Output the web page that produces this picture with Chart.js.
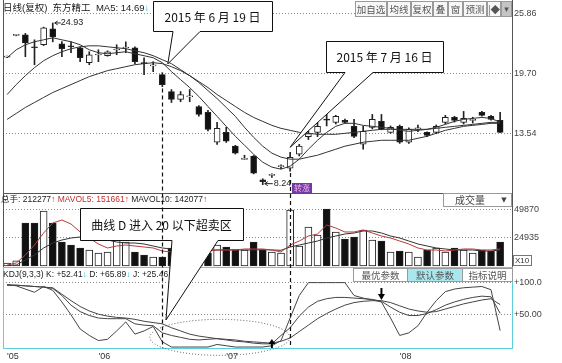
<!DOCTYPE html>
<html>
<head>
<meta charset="utf-8">
<script src="https://cdn.jsdelivr.net/npm/chart.js@4.4.0/dist/chart.umd.min.js"></script>
<style>
  html, body { margin: 0; padding: 0; background: #fff; }
  canvas { display: block; }
</style>
</head>
<body>
<canvas id="c" width="562" height="363"></canvas>
<script>
// daily candles, 东方精工, May - Aug 2015
const opens  = [21.40,23.65,23.70,22.40,22.68,24.32,22.78,22.50,22.37,20.83, 21.62,21.55,22.14,22.35,22.37,20.75,20.50,19.60,17.85,17.03, 17.30,16.31,15.70,12.62,13.64,12.21,10.85,11.18,8.75,9.20, 10.10,9.95,11.39,13.20,13.64,15.00,14.67,14.87,14.26,12.42, 14.16,14.77,13.64,14.26,12.62,14.00,13.64,13.64,14.67,15.19, 14.67,14.87,15.70,15.29,14.87];
const highs  = [21.50,23.75,23.85,23.19,24.50,24.93,23.00,22.98,22.47,21.96, 22.16,22.05,22.68,22.98,22.47,21.34,20.93,19.80,18.06,17.85, 18.06,16.40,15.90,14.67,14.16,12.30,11.28,11.25,8.85,9.35, 10.30,11.59,12.40,13.75,14.67,15.50,15.40,15.00,14.98,14.26, 15.49,15.49,14.30,14.40,14.10,14.40,13.70,14.40,15.40,15.30, 15.80,15.20,15.80,15.40,15.70];
const lows   = [21.35,23.60,21.45,20.62,22.60,22.98,21.45,21.86,20.93,20.62, 20.93,21.50,21.65,21.86,20.73,19.60,19.90,18.36,16.72,16.80, 16.80,15.30,13.80,12.40,12.60,11.40,10.85,9.35,8.24,9.00, 9.90,9.64,11.20,12.90,13.20,14.30,14.50,14.60,13.10,11.90, 14.00,13.90,13.55,12.50,12.50,13.70,13.20,13.50,14.50,14.70, 14.50,14.60,15.30,14.90,13.60];
const closes = [21.45,23.70,22.88,22.37,24.42,23.50,22.27,22.47,21.34,21.65, 21.65,21.96,22.16,22.37,20.93,20.73,20.52,18.57,17.03,17.54, 17.34,15.49,13.95,14.06,12.72,11.49,10.87,9.43,8.55,9.25, 10.15,11.07,12.21,13.50,14.26,14.90,15.29,14.67,13.23,13.74, 14.98,13.95,14.16,12.62,13.95,14.05,13.33,14.26,15.19,14.87, 15.08,14.98,15.39,14.98,13.64];

const ma5  = [21.34,22.16,22.68,22.99,23.19,23.40,23.19,22.99,22.68,22.16, 21.86,21.75,21.86,21.96,21.75,21.55,21.34,20.83,19.91,19.08, 18.26,17.34,16.31,15.29,14.26,13.23,12.31,11.38,10.56,10.05, 9.84,10.15,10.87,11.90,12.82,13.64,14.26,14.57,14.57,14.36, 14.26,14.16,14.05,13.85,13.75,13.85,13.95,14.16,14.46,14.77, 14.98,15.08,15.18,15.08,14.69];
const ma10 = [17.54,18.57,19.49,20.32,21.03,21.55,21.96,22.27,22.47,22.57, 22.57,22.47,22.37,22.27,22.06,21.86,21.55,21.14,20.73,20.11, 19.49,18.78,17.95,17.13,16.21,15.29,14.16,13.13,12.21,11.49, 11.08,10.87,10.87,11.08,11.28,11.59,11.90,12.21,12.41,12.62, 12.72,12.82,12.82,12.82,12.82,13.03,13.23,13.54,13.85,14.05, 14.26,14.36,14.46,14.57,14.57];
const ma20 = [14.98,15.59,16.21,16.72,17.24,17.75,18.16,18.57,18.98,19.39, 19.70,20.01,20.21,20.42,20.62,20.73,20.83,20.73,20.42,20.01, 19.49,18.88,18.26,17.54,16.93,16.31,15.70,15.18,14.77,14.36, 14.05,13.85,13.64,13.54,13.44,13.44,13.44,13.54,13.64,13.75, 13.85,13.95,13.95,13.95,13.95,13.95,13.95,14.05,14.16,14.26, 14.36,14.46,14.57,14.67,14.67];

const vols    = [27000,45000,383000,383000,490000,383000,214000,187000,160000,142500, 116000,125000,240000,214000,125000,98000,80000,80000,160000,150000, 170000,120000,116000,187000,169000,142500,142500,214000,142500,125000, 116000,498700,178000,347000,276000,507600,302800,240400,258200,320600, 231500,222600,124700,133600,124700,80100,142500,160300,124700,160300, 142500,115800,142500,133600,212277];
const mavol5  = [8905,26700,97960,187000,293900,382900,409600,374000,302800,249300, 195900,160300,178100,187000,178100,169200,160300,133600,124700,124700, 133600,133600,133600,142500,142500,142500,151400,151400,151400,142500, 124700,187000,222600,267200,285000,365100,338400,302800,302800,320600, 293900,267200,249300,222600,195900,160300,142500,142500,133600,142500, 151400,151400,142500,142500,151661];
const mavol10 = [4000,8905,53400,97960,160300,204800,231500,249300,258200,258200, 249300,231500,213700,204800,204800,195900,178100,160300,151400,142500, 142500,142500,140000,142500,142500,145000,142500,142500,146000,142500, 140000,169200,187000,204800,222600,249300,267200,285000,293900,311700, 311700,293900,267200,249300,222600,195900,178100,160300,151400,142500, 142500,142500,133600,133600,142077];

const kLine = [96,96,95,94,93,91,80,65,55,49, 45,44,44,44,36,34,33,22,18,15, 12,11,12,13,11,9,8,6,5,5, 18,30,48,62,71,75,77,77,76,75, 74,71,62,54,49,49,52,58,65,70, 74,77,79,78,52.41];
const dLine = [96,96,95,94,93,92,82,72,63,56, 51,48,46,45,43,40,38,36,30,25, 20,17,15,13,12,11,9,8,7,6, 9,14,24,34,44,52,59,65,69,71, 72,72,69,64,59,56,54,55,59,63, 67,70,73,75,65.89];
const jLine = [97,95,90,85,94,88,70,50,28,18, 10,12,25,39,20,25,32,8,0,0, 0,0,0,4,2,0,0,0,0,2, 10,45,80,100,100,100,100,100,80,76, 73,70,45,18,22,33,54,72,86,90, 92,93,94,89,25.46];

const monthTicks  = [0, 10, 24, 43];
const monthLabels = ["'05", "'06", "'07", "'08"];
const priceTicks  = [13.54, 19.70, 25.86];
const volTicks    = [249350, 498700];
const kdjTicks    = [50, 100];

const idx = closes.map((_, i) => i);
const up = idx.map(i => closes[i] >= opens[i]);
const pts = arr => arr.map((v, i) => ({ x: i, y: v }));
const last = arr => arr[arr.length - 1];

const CYAN = '#5ccfdc';
const TICKFONT = { family: 'Liberation Sans', size: 9 };

function drawSegs(ctx, x, y, parts, font) {
  ctx.font = font;
  ctx.textAlign = 'left';
  ctx.textBaseline = 'middle';
  for (const [t, c] of parts) {
    ctx.fillStyle = c;
    ctx.fillText(t, x, y);
    x += ctx.measureText(t).width;
  }
}

function seg(ctx, x1, y1, x2, y2) {
  ctx.beginPath();
  ctx.moveTo(x1, y1);
  ctx.lineTo(x2, y2);
  ctx.stroke();
}

function button(ctx, x0, y0, x1, y1, label, bg, font) {
  ctx.fillStyle = bg;
  ctx.fillRect(x0, y0, x1 - x0, y1 - y0);
  ctx.strokeStyle = '#9a9a9a';
  ctx.lineWidth = 1;
  ctx.strokeRect(x0 + 0.5, y0 + 0.5, x1 - x0 - 1, y1 - y0 - 1);
  ctx.fillStyle = '#555';
  ctx.font = font || "9.5px 'Noto Sans CJK SC'";
  ctx.textAlign = 'center';
  ctx.textBaseline = 'middle';
  ctx.fillText(label, (x0 + x1) / 2, (y0 + y1) / 2 + 0.5);
}

function callout(ctx, box, tail, tip, text) {
  const [x0, y0, x1, y1] = box;
  ctx.save();
  ctx.beginPath();
  ctx.moveTo(x0 + 0.5, y0 + 0.5);
  ctx.lineTo(x1 + 0.5, y0 + 0.5);
  ctx.lineTo(x1 + 0.5, y1 + 0.5);
  ctx.lineTo(tail[1], y1 + 0.5);
  ctx.lineTo(tip[0], tip[1]);
  ctx.lineTo(tail[0], y1 + 0.5);
  ctx.lineTo(x0 + 0.5, y1 + 0.5);
  ctx.closePath();
  ctx.fillStyle = '#fff';
  ctx.fill();
  ctx.strokeStyle = '#111';
  ctx.lineWidth = 1;
  ctx.stroke();
  ctx.fillStyle = '#111';
  ctx.font = "12px 'Noto Sans CJK SC'";
  ctx.textAlign = 'center';
  ctx.textBaseline = 'middle';
  ctx.fillText(text, (x0 + x1) / 2, (y0 + y1) / 2 + 1);
  ctx.restore();
}

const overlay = {
  id: 'overlay',
  afterDraw(chart) {
    const ctx = chart.ctx;
    const xs = chart.scales.x, yp = chart.scales.y, yv = chart.scales.yv, yk = chart.scales.yk;
    const L = chart.chartArea.left, R = chart.chartArea.right;
    ctx.save();

    // panel frames
    ctx.lineWidth = 1;
    ctx.strokeStyle = '#555';
    seg(ctx, L + 0.5, 0, L + 0.5, yv.bottom);
    seg(ctx, R + 0.5, 0, R + 0.5, yv.bottom);
    seg(ctx, L, yp.bottom + 0.5, R, yp.bottom + 0.5);
    ctx.strokeStyle = CYAN;
    seg(ctx, L, yv.bottom - 0.5, R + 1, yv.bottom - 0.5);
    seg(ctx, L + 0.5, yk.top, L + 0.5, yk.bottom);
    seg(ctx, R + 0.5, yk.top, R + 0.5, yk.bottom);

    // headers
    drawSegs(ctx, L, 8, [
      ['日线(复权)  东方精工  ', '#1a1a1a'],
      ['MA5: ' + last(ma5).toFixed(2), '#1a1a1a'], ['↓', '#22b8c8'],
      ['  MA10: ' + last(ma10).toFixed(2), '#1a1a1a']
    ], "9.5px 'Liberation Sans', 'Noto Sans CJK SC'");
    drawSegs(ctx, L - 2, 200, [
      ['总手: ' + last(vols), '#222'], ['↑', '#e02020'],
      [' MAVOL5: ' + last(mavol5), '#c03030'], ['↑', '#e02020'],
      [' MAVOL10: ' + last(mavol10), '#222'], ['↑', '#e02020']
    ], "8.5px 'Liberation Sans', 'Noto Sans CJK SC'");
    drawSegs(ctx, L, 275, [
      ['KDJ(9,3,3) K: +' + last(kLine).toFixed(2), '#222'], ['↓', '#22b8c8'],
      [' D: +' + last(dLine).toFixed(2), '#222'], ['↓', '#22b8c8'],
      [' J: +' + last(jLine).toFixed(2), '#222']
    ], "8.5px 'Liberation Sans', 'Noto Sans CJK SC'");

    // toolbar at the top right
    const tools = [['加自选', 355, 387], ['均线', 387, 411], ['复权', 411, 433], ['叠', 433, 448],
                   ['窗', 448, 463], ['预测', 463, 487], ['|◆', 487, 501]];
    tools.forEach(t => button(ctx, t[1], 1, t[2], 17, t[0], '#f7f7f7'));
    button(ctx, 501, 1, 512, 17, '▾', '#c4c4c4', "9px 'DejaVu Sans'");

    // volume selector and X10 tag
    button(ctx, 443, yp.bottom, 512, yp.bottom + 14, '', '#fff');
    ctx.fillStyle = '#444';
    ctx.font = "10px 'Noto Sans CJK SC'";
    ctx.textAlign = 'center';
    ctx.fillText('成交量', 470, yp.bottom + 7.5);
    ctx.font = "7px 'DejaVu Sans'";
    ctx.fillText('▼', 504, yp.bottom + 7.5);
    ctx.fillStyle = '#fff';
    ctx.fillRect(R + 1, yv.bottom - 13, 19, 11);
    ctx.strokeStyle = '#777';
    ctx.strokeRect(R + 1.5, yv.bottom - 12.5, 18, 10);
    ctx.fillStyle = '#333';
    ctx.font = "8px 'Liberation Sans'";
    ctx.textAlign = 'left';
    ctx.fillText('X10', R + 3, yv.bottom - 7);

    // KDJ buttons
    button(ctx, 353, yk.top, 408, yk.top + 14, '最优参数', '#fff');
    button(ctx, 407, yk.top, 463, yk.top + 14, '默认参数', '#a9e7ef');
    button(ctx, 462, yk.top, 513, yk.top + 14, '指标说明', '#fff');

    // high / low marks
    const hi = highs.indexOf(Math.max(...highs));
    const lo = lows.indexOf(Math.min(...lows));
    ctx.strokeStyle = '#222';
    ctx.fillStyle = '#222';
    ctx.font = "9px 'Liberation Sans'";
    ctx.textAlign = 'left';
    ctx.textBaseline = 'middle';
    let hx = xs.getPixelForValue(hi) + 2, hy = yp.getPixelForValue(highs[hi]);
    seg(ctx, hx, hy, hx + 6, hy);
    seg(ctx, hx, hy, hx + 3, hy - 2);
    seg(ctx, hx, hy, hx + 3, hy + 2);
    ctx.fillText(highs[hi].toFixed(2), hx + 6, hy);
    let lx = xs.getPixelForValue(lo) + 2, ly = yp.getPixelForValue(lows[lo]) - 1;
    seg(ctx, lx, ly, lx + 8, ly);
    seg(ctx, lx, ly, lx + 3, ly - 2);
    seg(ctx, lx, ly, lx + 3, ly + 2);
    ctx.fillText(lows[lo].toFixed(2), lx + 9, ly);

    // purple signal badge
    const bx = xs.getPixelForValue(32.3);
    ctx.fillStyle = '#6f3aa8';
    ctx.fillRect(bx - 10, yp.bottom - 10, 20, 10);
    ctx.fillStyle = '#ffb8e6';
    ctx.font = "8px 'Noto Sans CJK SC'";
    ctx.textAlign = 'center';
    ctx.fillText('转涨', bx, yp.bottom - 5);

    // dotted ellipse around the oversold zone
    ctx.save();
    ctx.setLineDash([1, 2]);
    ctx.strokeStyle = '#555';
    ctx.beginPath();
    ctx.ellipse(xs.getPixelForValue(23.3), yk.getPixelForValue(15), 70, 18, 0, 0, Math.PI * 2);
    ctx.stroke();
    ctx.restore();

    // KDJ signal arrows
    const ax = xs.getPixelForValue(29);
    ctx.fillStyle = '#000';
    ctx.beginPath();
    ctx.moveTo(ax, yk.bottom - 9);
    ctx.lineTo(ax - 3.5, yk.bottom - 4);
    ctx.lineTo(ax + 3.5, yk.bottom - 4);
    ctx.closePath();
    ctx.fill();
    ctx.fillRect(ax - 1, yk.bottom - 5, 2, 5);
    const dx = xs.getPixelForValue(41);
    const dy = yk.getPixelForValue(73);
    ctx.fillRect(dx - 1, dy - 12, 2, 7);
    ctx.beginPath();
    ctx.moveTo(dx, dy);
    ctx.lineTo(dx - 3.5, dy - 6);
    ctx.lineTo(dx + 3.5, dy - 6);
    ctx.closePath();
    ctx.fill();

    // callouts
    callout(ctx, [153, 1, 272, 31], [173, 200],
      [xs.getPixelForValue(17.6), yp.getPixelForValue(20.7)], '2015 年 6 月 19 日');
    callout(ctx, [326, 41, 443, 72], [345, 373],
      [xs.getPixelForValue(31), yp.getPixelForValue(12.1)], '2015 年 7 月 16 日');
    callout(ctx, [80, 208, 243, 240], [172, 218],
      [xs.getPixelForValue(17.4), yk.getPixelForValue(42)], '曲线 D 进入 20 以下超卖区');

    // dashed date markers
    ctx.setLineDash([4, 3]);
    ctx.strokeStyle = '#111';
    ctx.lineWidth = 1.2;
    [17, 31].forEach(i => {
      const x = Math.round(xs.getPixelForValue(i)) + 0.5;
      seg(ctx, x, yp.getPixelForValue(lows[i]) + 2, x, yk.bottom);
    });
    ctx.restore();
  }
};

function yAxis(weight, min, max, ticks, fmt, borderColor) {
  return {
    position: 'right', stack: 'panels', stackWeight: weight, min: min, max: max,
    afterBuildTicks: s => { s.ticks = ticks.map(v => ({ value: v })); },
    afterFit: s => { s.width = 50; s.paddingTop = 0; s.paddingBottom = 0; },
    grid: { color: '#8a8a8a', drawTicks: false },
    border: { display: true, color: borderColor, dash: [1, 2] },
    ticks: { padding: 2, font: TICKFONT, color: '#444', callback: fmt }
  };
}

const lineSet = (data, axis, color) => ({
  type: 'line', data: pts(data), yAxisID: axis, borderColor: color,
  borderWidth: 1, pointRadius: 0, tension: 0, order: 0
});

new Chart(document.getElementById('c'), {
  type: 'bar',
  data: {
    datasets: [
      lineSet(ma5, 'y', '#333'),
      lineSet(ma10, 'y', '#333'),
      lineSet(ma20, 'y', '#333'),
      {
        type: 'bar', data: idx.map(i => ({ x: i, y: [opens[i], closes[i]] })), yAxisID: 'y',
        backgroundColor: idx.map(i => up[i] ? '#fff' : '#111'), borderColor: '#222', borderWidth: 1,
        borderSkipped: false, barThickness: 6, minBarLength: 1, grouped: false, order: 1
      },
      {
        type: 'bar', data: idx.map(i => ({ x: i, y: [lows[i], highs[i]] })), yAxisID: 'y',
        backgroundColor: '#222', borderWidth: 0, barThickness: 1, grouped: false, order: 2
      },
      {
        type: 'bar', data: pts(vols), yAxisID: 'yv',
        backgroundColor: idx.map(i => up[i] ? '#fff' : '#111'), borderColor: '#222', borderWidth: 1,
        borderSkipped: false, barThickness: 7, grouped: false, order: 1
      },
      lineSet(mavol5, 'yv', '#b83a3a'),
      lineSet(mavol10, 'yv', '#333'),
      lineSet(kLine, 'yk', '#444'),
      lineSet(dLine, 'yk', '#444'),
      lineSet(jLine, 'yk', '#444')
    ]
  },
  options: {
    responsive: false,
    animation: false,
    devicePixelRatio: 1,
    layout: { padding: { left: 3, top: 3, right: 0, bottom: 0 } },
    plugins: { legend: { display: false }, tooltip: { enabled: false } },
    scales: {
      x: {
        type: 'linear', min: -0.45, max: 55.3, offset: false,
        grid: { display: false, offset: false },
        border: { display: true, color: CYAN },
        afterBuildTicks: s => { s.ticks = monthTicks.map(v => ({ value: v })); },
        afterFit: s => { s.height = 15; s.paddingLeft = 0; s.paddingRight = 0; },
        ticks: {
          align: 'start', padding: -5, font: TICKFONT, color: '#333', maxRotation: 0,
          callback: v => monthLabels[monthTicks.indexOf(v)]
        }
      },
      y: yAxis(190, 7.38, 26.99, priceTicks, v => v.toFixed(2), '#555'),
      yv: yAxis(75, -17810, 650065, volTicks, v => String(Math.round(v / 10)), '#555'),
      yk: yAxis(80, -1.5, 122.7, kdjTicks, v => v === 100 ? '+100.0' : '+50.00', CYAN)
    }
  },
  plugins: [overlay]
});
</script>
</body>
</html>
